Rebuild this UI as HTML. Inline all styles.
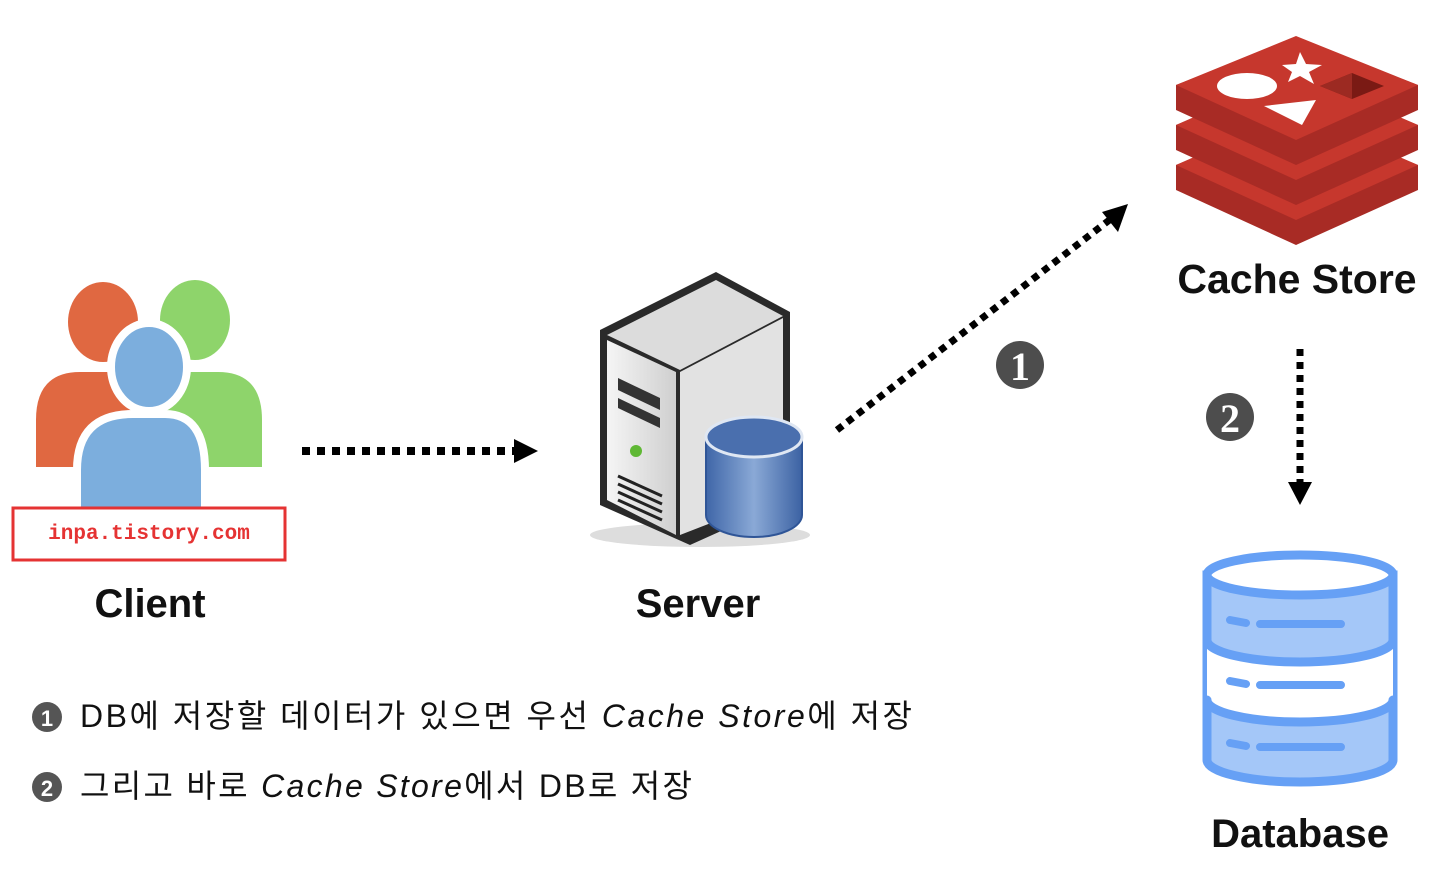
<!DOCTYPE html>
<html><head><meta charset="utf-8"><style>
html,body{margin:0;padding:0;background:#fff;}
svg{display:block}
</style></head><body>
<svg width="1444" height="872" viewBox="0 0 1444 872" xmlns="http://www.w3.org/2000/svg">
<defs>
<linearGradient id="sv" x1="0" y1="0" x2="1" y2="0"><stop offset="0" stop-color="#f5f5f5"/><stop offset="1" stop-color="#cfcfcf"/></linearGradient>
<linearGradient id="cy" x1="0" y1="0" x2="1" y2="0"><stop offset="0" stop-color="#3f66a8"/><stop offset="0.5" stop-color="#8aa9d6"/><stop offset="1" stop-color="#3c62a3"/></linearGradient>
</defs>
<!-- Client -->
<ellipse cx="103" cy="322" rx="35" ry="40" fill="#e06841"/>
<path d="M36 467 V420 Q36 372 80 372 H126 Q170 372 170 420 V467 Z" fill="#e06841"/>
<ellipse cx="195" cy="320" rx="35" ry="40" fill="#8ed46b"/>
<path d="M130 467 V420 Q130 372 174 372 H218 Q262 372 262 420 V467 Z" fill="#8ed46b"/>
<ellipse cx="149" cy="367" rx="38" ry="44" fill="#7caedd" stroke="#fff" stroke-width="8"/>
<path d="M77 512 V470 Q77 414 133 414 H165 Q205 414 205 470 V512 Z" fill="#7caedd" stroke="#fff" stroke-width="8"/>
<rect x="13" y="508" width="272" height="52" fill="#fff" stroke="#e53333" stroke-width="3"/>
<text x="149" y="539" text-anchor="middle" font-family="Liberation Mono, monospace" font-size="21" font-weight="bold" fill="#e53333">inpa.tistory.com</text>
<text x="150" y="617" text-anchor="middle" font-family="Liberation Sans, sans-serif" font-size="40" font-weight="bold" fill="#111">Client</text>
<!-- arrow 1 -->
<line x1="302" y1="451" x2="515" y2="451" stroke="#000" stroke-width="8" stroke-dasharray="8,7"/>
<polygon points="514,439 538,451 514,463" fill="#000"/>
<!-- Server -->
<ellipse cx="700" cy="535" rx="110" ry="12" fill="#ddd"/>
<path d="M600 330 L716 272 L790 312 L790 500 L690 545 L600 505 Z" fill="#2a2a2a"/>
<path d="M607 335 L716 280 L783 316 L680 370 Z" fill="#dcdcdc"/>
<path d="M607 340 L676 372 L676 535 L607 500 Z" fill="url(#sv)"/>
<path d="M680 372 L783 318 L783 495 L680 535 Z" fill="#e2e2e2"/>
<path d="M618 378 L660 398 L660 410 L618 390 Z M618 398 L660 418 L660 428 L618 408 Z" fill="#333"/>
<circle cx="636" cy="451" r="6" fill="#5fb834"/>
<path d="M618 476 L662 496 M618 484 L662 504 M618 492 L662 512 M618 500 L662 520" stroke="#222" stroke-width="3"/>
<path d="M706 437 V515 A48 22 0 0 0 802 515 V437 Z" fill="url(#cy)" stroke="#2f5597" stroke-width="2"/>
<ellipse cx="754" cy="437" rx="48" ry="20" fill="#4a6fae" stroke="#dfe7f3" stroke-width="3"/>
<text x="698" y="617" text-anchor="middle" font-family="Liberation Sans, sans-serif" font-size="40" font-weight="bold" fill="#111">Server</text>
<!-- diagonal arrow -->
<line x1="837" y1="430" x2="1112" y2="218" stroke="#000" stroke-width="7" stroke-dasharray="7,6"/>
<polygon points="1128,204 1118,232 1102,212" fill="#000"/>
<circle cx="1020" cy="365" r="24" fill="#4d4d4d"/>
<text x="1020" y="380" text-anchor="middle" font-family="Liberation Serif, serif" font-size="40" font-weight="bold" fill="#fff">1</text>
<!-- Redis -->
<g>
<path d="M1176 165 L1296 115 L1418 165 V190 L1296 245 L1176 190 Z" fill="#a82b25"/>
<path d="M1176 165 L1296 112 L1418 165 L1296 220 Z" fill="#c6372d"/>
<path d="M1176 125 L1296 75 L1418 125 V150 L1296 205 L1176 150 Z" fill="#a82b25"/>
<path d="M1176 125 L1296 72 L1418 125 L1296 180 Z" fill="#c6372d"/>
<path d="M1176 85 L1296 38 L1418 85 V110 L1296 165 L1176 110 Z" fill="#a82b25"/>
<path d="M1176 85 L1296 36 L1418 85 L1296 140 Z" fill="#c6372d"/>
<ellipse cx="1247" cy="86" rx="30" ry="13" fill="#fff"/>
<polygon points="1300,52 1306,64 1322,65 1309,72 1314,84 1300,76 1288,82 1292,72 1282,65 1296,64" fill="#fff"/>
<polygon points="1264,106 1316,100 1302,125" fill="#fff"/>
<polygon points="1320,86 1352,73 1384,86 1352,99" fill="#7a1a14"/>
<polygon points="1320,86 1352,73 1352,99" fill="#9c2a22"/>
</g>
<text x="1297" y="293" text-anchor="middle" font-family="Liberation Sans, sans-serif" font-size="41" font-weight="bold" fill="#111">Cache Store</text>
<!-- vertical arrow -->
<line x1="1300" y1="349" x2="1300" y2="482" stroke="#000" stroke-width="7" stroke-dasharray="7,6"/>
<polygon points="1288,482 1312,482 1300,505" fill="#000"/>
<circle cx="1230" cy="417" r="24" fill="#4d4d4d"/>
<text x="1230" y="432" text-anchor="middle" font-family="Liberation Serif, serif" font-size="40" font-weight="bold" fill="#fff">2</text>
<!-- Database -->
<g stroke="#66a0f5" stroke-width="9" stroke-linecap="round">
<path d="M1207 575 V760 A93 22 0 0 0 1393 760 V575 Z" fill="#a4c7f8"/>
<path d="M1207 640 A93 22 0 0 0 1393 640 V700 A93 22 0 0 1 1207 700 Z" fill="#fff" stroke="none"/>
<path d="M1207 640 A93 22 0 0 0 1393 640 M1207 700 A93 22 0 0 0 1393 700" fill="none"/>
<ellipse cx="1300" cy="575" rx="93" ry="20" fill="#fff"/>
<path d="M1230 620 L1246 623 M1260 624 H1341 M1230 681 L1246 684 M1260 685 H1341 M1230 743 L1246 746 M1260 747 H1341" fill="none" stroke-width="8"/>
</g>
<text x="1300" y="847" text-anchor="middle" font-family="Liberation Sans, sans-serif" font-size="40" font-weight="bold" fill="#111">Database</text>
<!-- Legend -->
<circle cx="47" cy="717" r="15" fill="#555"/>
<text x="47" y="726" text-anchor="middle" font-family="Liberation Sans, sans-serif" font-size="22" font-weight="bold" fill="#fff">1</text>
<text x="80" y="727" textLength="832" lengthAdjust="spacing" font-family="Liberation Sans, 'Noto Sans CJK KR', sans-serif" font-size="32" fill="#111">DB에 저장할 데이터가 있으면 우선 <tspan font-style="italic">Cache Store</tspan>에 저장</text>
<circle cx="47" cy="787" r="15" fill="#555"/>
<text x="47" y="796" text-anchor="middle" font-family="Liberation Sans, sans-serif" font-size="22" font-weight="bold" fill="#fff">2</text>
<text x="80" y="797" textLength="612" lengthAdjust="spacing" font-family="Liberation Sans, 'Noto Sans CJK KR', sans-serif" font-size="32" fill="#111">그리고 바로 <tspan font-style="italic">Cache Store</tspan>에서 DB로 저장</text>
</svg>
</body></html>
